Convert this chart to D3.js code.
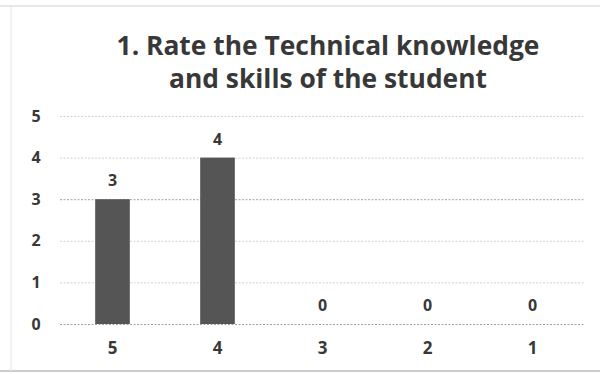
<!DOCTYPE html>
<html>
<head>
<meta charset="utf-8">
<script src="https://cdn.jsdelivr.net/npm/d3@7"></script>
<style>
  html, body { margin: 0; padding: 0; background: #fff; }
  svg { display: block; }
</style>
</head>
<body>
<svg id="chart" width="600" height="374"></svg>
<script>
// Ratings given and the number of responses for each
const categories = ["5", "4", "3", "2", "1"];
const counts = [3, 4, 0, 0, 0];
const yTicks = [0, 1, 2, 3, 4, 5];
const titleLines = ["1. Rate the Technical knowledge", "and skills of the student"];

const svg = d3.select("#chart");
const W = 600, H = 374;
const margin = { top: 116, right: 15, bottom: 50, left: 60 };
const font = "'Open Sans', Lato, sans-serif";
const ink = "#383838";

// frame lines of the page
svg.append("line").attr("x1", 0).attr("x2", W).attr("y1", 6).attr("y2", 6)
  .attr("stroke", "#cfcfcf").attr("stroke-width", 1);
svg.append("line").attr("x1", 0).attr("x2", W).attr("y1", 371).attr("y2", 371)
  .attr("stroke", "#9a9a9a").attr("stroke-width", 1.2);
svg.append("line").attr("x1", 11).attr("x2", 11).attr("y1", 6).attr("y2", 371)
  .attr("stroke", "#e4e4e4").attr("stroke-width", 1);

const x = d3.scaleBand()
  .domain(categories)
  .range([margin.left, W - margin.right])
  .paddingInner(0.67)
  .paddingOuter(0.335);

const y = d3.scaleLinear()
  .domain([0, 5])
  .range([H - margin.bottom, margin.top]);

// title, sized so the first line spans the headline width
const titleX = 328;
const title = svg.append("text")
  .attr("x", titleX).attr("y", 55)
  .attr("text-anchor", "middle")
  .attr("font-family", font).attr("font-weight", 700)
  .attr("font-size", 24).attr("fill", ink);
title.selectAll("tspan").data(titleLines).join("tspan")
  .attr("x", titleX).attr("dy", (d, i) => i === 0 ? 0 : 33)
  .text(d => d);
const firstLen = title.select("tspan").node().getComputedTextLength();
title.attr("font-size", 24 * 423 / firstLen);

// y axis with gridlines
const yAxis = d3.axisLeft(y)
  .tickValues(yTicks)
  .tickSize(-(W - margin.left - margin.right))
  .tickPadding(24)
  .tickFormat(d3.format("d"));

const gy = svg.append("g")
  .attr("transform", `translate(${margin.left},0)`)
  .call(yAxis);
gy.select(".domain").remove();
gy.selectAll(".tick line")
  .attr("stroke", "#9c9c9c")
  .attr("stroke-width", 1)
  .attr("stroke-dasharray", "2,1.5")
  .attr("opacity", d => (d === 0 || d === 3) ? 0.95 : 0.45);
gy.selectAll(".tick text")
  .attr("font-family", font).attr("font-weight", 700)
  .attr("font-size", 16).attr("fill", ink)
  .attr("text-anchor", "middle");

// bars
svg.append("g").selectAll("rect")
  .data(counts)
  .join("rect")
  .attr("x", (d, i) => x(categories[i]))
  .attr("width", x.bandwidth())
  .attr("y", d => y(d))
  .attr("height", d => y(0) - y(d))
  .attr("fill", "#555555");

// value labels
svg.append("g").selectAll("text")
  .data(counts)
  .join("text")
  .attr("x", (d, i) => x(categories[i]) + x.bandwidth() / 2)
  .attr("y", d => y(d) - 13)
  .attr("text-anchor", "middle")
  .attr("font-family", font).attr("font-weight", 700)
  .attr("font-size", 16).attr("fill", ink)
  .text(d => d);

// x axis labels
const xAxis = d3.axisBottom(x).tickSize(0).tickPadding(18);
const gx = svg.append("g")
  .attr("transform", `translate(0,${y(0)})`)
  .call(xAxis);
gx.select(".domain").remove();
gx.selectAll(".tick text")
  .attr("font-family", font).attr("font-weight", 700)
  .attr("font-size", 17).attr("fill", ink);
</script>
</body>
</html>
